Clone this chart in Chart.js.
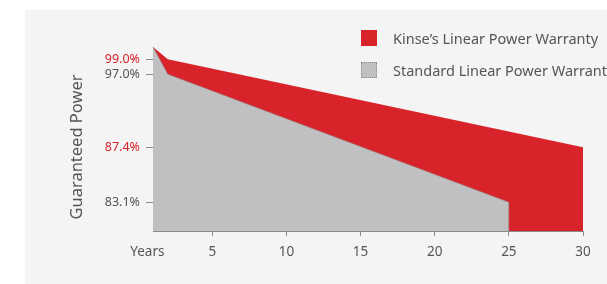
<!DOCTYPE html>
<html><head><meta charset="utf-8">
<script src="https://cdn.jsdelivr.net/npm/chart.js@4"></script>
<style>
html,body{margin:0;padding:0;width:607px;height:284px;overflow:hidden;background:#fff;}
#panel{position:absolute;left:25px;top:10px;width:582px;height:274px;background:#f4f4f4;}
#wrap{position:absolute;left:0;top:0;width:607px;height:284px;}
#legend{position:absolute;left:361px;top:30px;font-family:'Noto Sans',sans-serif;font-size:14.5px;color:#555;white-space:nowrap;}
.item{display:flex;align-items:center;height:16px;margin-bottom:15.5px;}
.box{display:inline-block;width:16px;height:16px;box-sizing:border-box;margin-right:16px;flex:none;}
</style></head>
<body>
<div id="panel"></div>
<div id="wrap"><canvas id="c" width="607" height="284"></canvas></div>
<div id="legend"></div>
<script>
// ---- data ----
const seriesNames = ["Kinse\u2019s Linear Power Warranty", "Standard Linear Power Warranty"];
const kinseYears = [1, 2, 30];
const kinseValues = [100, 99.0, 87.4];
const standardYears = [1, 2, 25, 25];
const standardValues = [100, 97.0, 83.1, 81];
const yTickValues = [83.1, 87.4, 97.0, 99.0];
const yTickHighlighted = [87.4, 99.0];
const xTickValues = [5, 10, 15, 20, 25, 30];
const xAxisName = 'Years';
const yAxisName = 'Guaranteed Power';
const yRange = [81, 100];
const xRange = [1, 30];

// ---- layout ----
const xAxisNameAt = 0.62;      // where the "Years" caption sits on the x axis
const yTitleShift = [2, 8];    // nudge of the y-axis title (px)
// non-uniform value axis: value -> fraction of axis height
const yKnots = [[81, 0], [83.1, 0.156], [87.4, 0.455], [97, 0.852], [99, 0.933], [100, 1]];

function valueToDecimal(v) {
  const k = yKnots;
  if (v <= k[0][0]) return k[0][1] + (v - k[0][0]) * (k[1][1] - k[0][1]) / (k[1][0] - k[0][0]);
  for (let i = 1; i < k.length; i++) {
    if (v <= k[i][0]) {
      const a = k[i - 1], b = k[i];
      return a[1] + (v - a[0]) * (b[1] - a[1]) / (b[0] - a[0]);
    }
  }
  const a = k[k.length - 2], b = k[k.length - 1];
  return b[1] + (v - b[0]) * (b[1] - a[1]) / (b[0] - a[0]);
}
function decimalToValue(d) {
  const k = yKnots;
  for (let i = 1; i < k.length; i++) {
    if (d <= k[i][1] || i === k.length - 1) {
      const a = k[i - 1], b = k[i];
      return a[0] + (d - a[1]) * (b[0] - a[0]) / (b[1] - a[1]);
    }
  }
}

class PiecewiseScale extends Chart.LinearScale {
  getPixelForValue(value) {
    return this.getPixelForDecimal(valueToDecimal(value));
  }
  getValueForPixel(pixel) {
    return decimalToValue(this.getDecimalForPixel(pixel));
  }
  drawTitle() {
    const ctx = this.ctx;
    ctx.save();
    ctx.translate(yTitleShift[0], yTitleShift[1]);
    super.drawTitle();
    ctx.restore();
  }
}
PiecewiseScale.id = 'piecewise';
PiecewiseScale.defaults = Chart.LinearScale.defaults;
Chart.register(PiecewiseScale);

const RED = '#d9232a';
const GREY = '#c0c0c2';
const TEXT = '#555555';
const AXIS = '#8a8a8a';

const htmlLegend = {
  id: 'htmlLegend',
  afterUpdate(chart) {
    const el = document.getElementById('legend');
    el.innerHTML = '';
    const items = Chart.defaults.plugins.legend.labels.generateLabels(chart)
      .sort((a, b) => a.datasetIndex - b.datasetIndex);
    items.forEach(it => {
      const ds = chart.data.datasets[it.datasetIndex];
      const row = document.createElement('div');
      row.className = 'item';
      const box = document.createElement('span');
      box.className = 'box';
      box.style.background = ds.backgroundColor;
      if (ds.borderWidth > 0) box.style.border = '1px dotted ' + ds.borderColor;
      const txt = document.createElement('span');
      txt.textContent = it.text;
      row.appendChild(box);
      row.appendChild(txt);
      el.appendChild(row);
    });
  }
};

Chart.defaults.font.family = "'Noto Sans', sans-serif";
Chart.defaults.color = TEXT;

const xTicks = [xAxisNameAt].concat(xTickValues);

new Chart(document.getElementById('c'), {
  type: 'line',
  data: {
    datasets: [
      {
        label: seriesNames[0],
        data: kinseYears.map((x, i) => ({x, y: kinseValues[i]})),
        backgroundColor: RED,
        borderColor: RED,
        borderWidth: 0,
        fill: 'start',
        pointRadius: 0,
        tension: 0,
        order: 1
      },
      {
        label: seriesNames[1],
        data: standardYears.map((x, i) => ({x, y: standardValues[i]})),
        backgroundColor: GREY,
        borderColor: AXIS,
        borderWidth: 1,
        borderDash: [1, 1],
        fill: 'start',
        pointRadius: 0,
        tension: 0,
        order: 0
      }
    ]
  },
  options: {
    responsive: false,
    animation: false,
    layout: { padding: { left: 65, top: 47, right: 24, bottom: 0 } },
    plugins: {
      legend: { display: false },
      tooltip: { enabled: false }
    },
    scales: {
      x: {
        type: 'linear',
        min: xRange[0],
        max: xRange[1],
        afterBuildTicks: s => { s.ticks = xTicks.map(v => ({ value: v })); },
        afterFit: s => { s.height = 53; },
        ticks: {
          autoSkip: false,
          maxRotation: 0,
          padding: 8,
          color: TEXT,
          font: { size: 13.5 },
          callback: v => v === xAxisNameAt ? xAxisName : String(v)
        },
        grid: {
          drawOnChartArea: false,
          drawTicks: true,
          tickLength: 5,
          tickColor: c => (c.tick && c.tick.value === xAxisNameAt) ? 'rgba(0,0,0,0)' : AXIS
        },
        border: { display: true, color: AXIS, width: 1 }
      },
      y: {
        type: 'piecewise',
        min: yRange[0],
        max: yRange[1],
        afterBuildTicks: s => { s.ticks = yTickValues.map(v => ({ value: v })); },
        afterFit: s => { s.width = 88; },
        ticks: {
          autoSkip: false,
          padding: 6,
          font: { size: 12.5 },
          color: c => yTickHighlighted.includes(c.tick.value) ? RED : TEXT,
          callback: v => Number(v).toFixed(1) + '%'
        },
        grid: {
          drawOnChartArea: false,
          drawTicks: true,
          tickLength: 7,
          tickColor: AXIS
        },
        border: { display: true, color: AXIS, width: 1 },
        title: {
          display: true,
          text: yAxisName,
          color: TEXT,
          font: { size: 16.5 },
          padding: { top: 0, bottom: 0 }
        }
      }
    }
  },
  plugins: [htmlLegend]
});
</script>
</body></html>
